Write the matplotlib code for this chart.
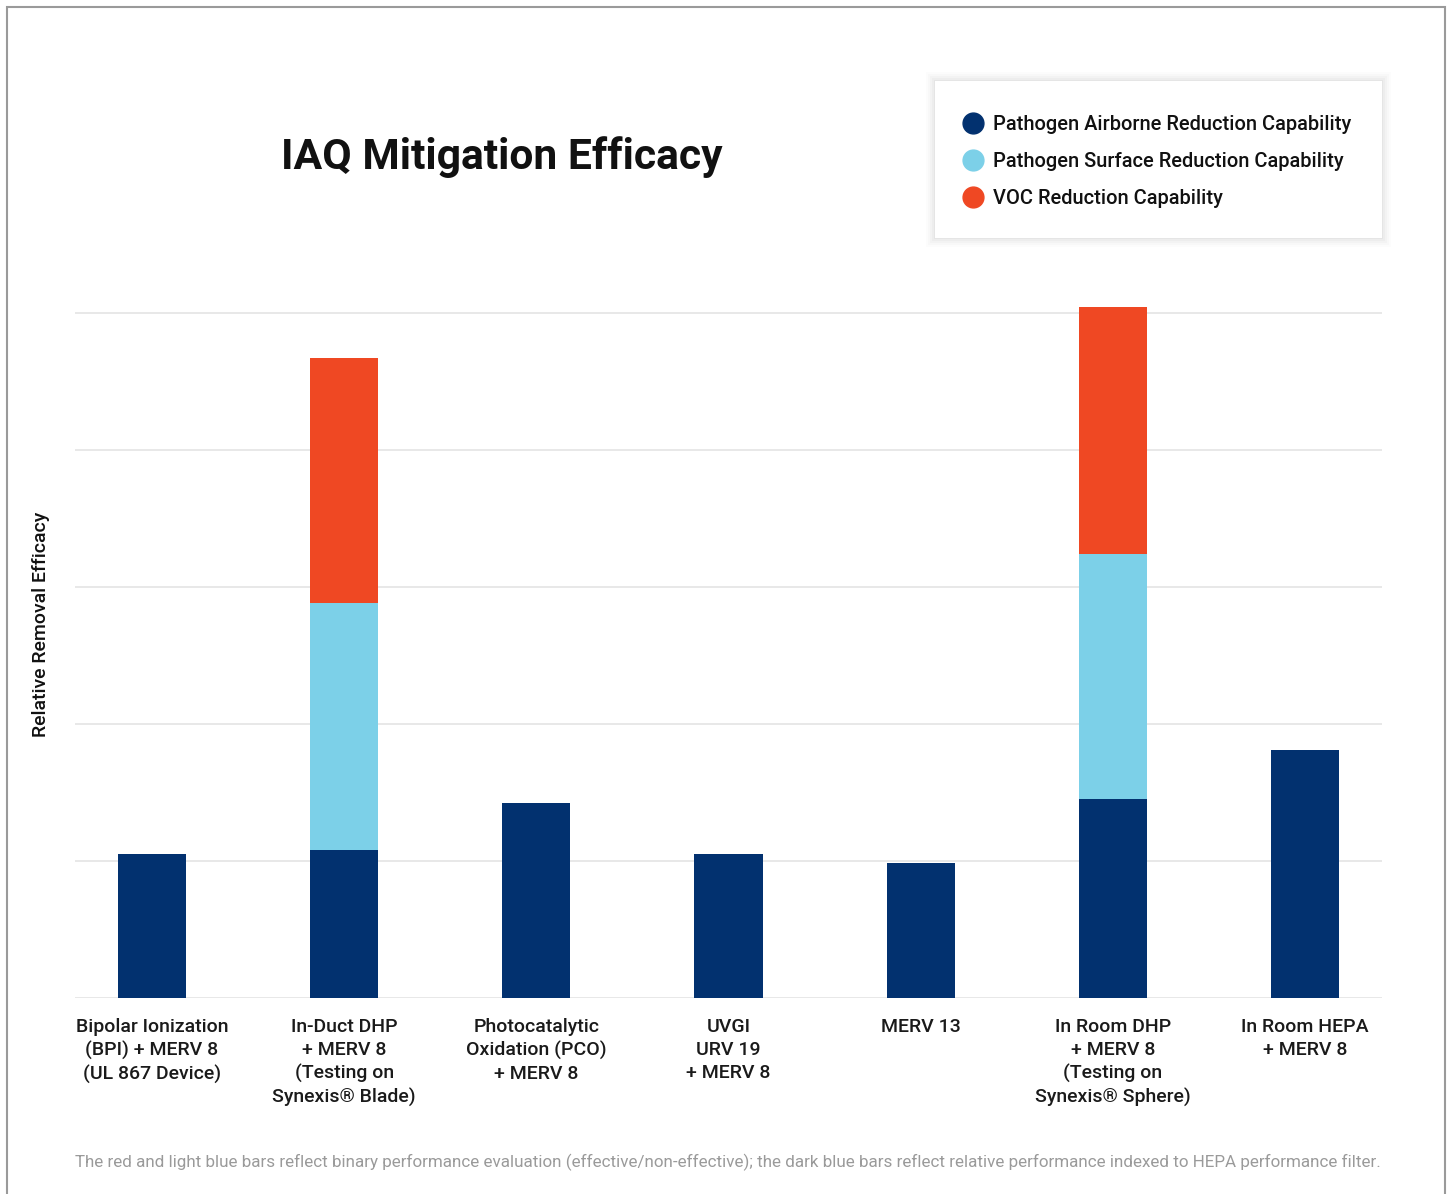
import matplotlib
matplotlib.use("Agg")
import matplotlib.pyplot as plt
from matplotlib.patches import Rectangle
from matplotlib.lines import Line2D
import numpy as np

plt.rcParams['font.family'] = ['Roboto', 'Liberation Sans', 'DejaVu Sans']

# datos (1 unidad = una linea de la grilla)
categorias = [
    "Bipolar Ionization\n(BPI) + MERV 8\n(UL 867 Device)",
    "In-Duct DHP\n+ MERV 8\n(Testing on\nSynexis® Blade)",
    "Photocatalytic\nOxidation (PCO)\n+ MERV 8",
    "UVGI\nURV 19\n+ MERV 8",
    "MERV 13",
    "In Room DHP\n+ MERV 8\n(Testing on\nSynexis® Sphere)",
    "In Room HEPA\n+ MERV 8",
]
aire = [1.05, 1.08, 1.42, 1.05, 0.98, 1.45, 1.81]
superficie = [0, 1.80, 0, 0, 0, 1.79, 0]
voc = [0, 1.79, 0, 0, 0, 1.80, 0]
series = ["Pathogen Airborne Reduction Capability",
          "Pathogen Surface Reduction Capability",
          "VOC Reduction Capability"]
colores = ["#02316F", "#7CD0E8", "#EF4823"]

W, H = 1449, 1194
fig = plt.figure(figsize=(W / 100, H / 100), dpi=100)
fig.patch.set_facecolor("white")

# marco gris alrededor
fig.patches.append(Rectangle((7 / W, -0.01), (1445 - 7) / W, 1 - 7 / H + 0.01,
                             transform=fig.transFigure, fill=False,
                             edgecolor="#9a9a9a", linewidth=1.5))

ax = fig.add_axes([75 / W, (H - 997.5) / H, (1382 - 75) / W, (997.5 - 299) / H])
x = np.arange(len(categorias))
ancho = 0.354
aire = np.array(aire)
superficie = np.array(superficie)
voc = np.array(voc)
ax.bar(x, aire, ancho, color=colores[0], zorder=3)
ax.bar(x, superficie, ancho, bottom=aire, color=colores[1], zorder=3)
ax.bar(x, voc, ancho, bottom=aire + superficie, color=colores[2], zorder=3)

ax.set_xlim(-0.4, 6.4)
ax.set_ylim(0, 5.1)
ax.set_yticks([0, 1, 2, 3, 4, 5])
ax.set_yticklabels([])
ax.grid(axis="y", color="#e4e4e4", linewidth=1.2, zorder=0)
ax.set_axisbelow(True)
ax.set_xticks(x)
ax.set_xticklabels(categorias, fontsize=14, fontweight="medium", color="#1a1a1a",
                   linespacing=1.33)
ax.tick_params(axis="both", length=0)
ax.tick_params(axis="x", pad=15)
for s in ax.spines.values():
    s.set_visible(False)

fig.text(41 / W, 1 - 624 / H, "Relative Removal Efficacy", rotation=90,
         ha="center", va="center", fontsize=14, fontweight="medium", color="#111111")

fig.text(502 / W, 1 - 157 / H, "IAQ Mitigation Efficacy", ha="center", va="center",
         fontsize=30.7, fontweight="bold", color="#111111")

# caja de la leyenda con sombra suave
bx0, by0, bx1, by1 = 935, 81, 1382, 238
for i, a in enumerate([0.012, 0.016, 0.02, 0.025, 0.03]):
    d = 9 - 2 * i
    fig.patches.append(Rectangle(((bx0 - d) / W, 1 - (by1 + d) / H),
                                 (bx1 - bx0 + 2 * d) / W, (by1 - by0 + 2 * d) / H,
                                 transform=fig.transFigure, facecolor="black",
                                 edgecolor="none", alpha=a))
fig.patches.append(Rectangle((bx0 / W, 1 - by1 / H), (bx1 - bx0) / W, (by1 - by0) / H,
                             transform=fig.transFigure, facecolor="white",
                             edgecolor="none"))

manijas = [Line2D([], [], marker="o", linestyle="none", markersize=15,
                  markerfacecolor=c, markeredgecolor=c) for c in colores]
leg = fig.legend(manijas, series, loc="upper left",
                 bbox_to_anchor=(963 / W, 1 - 115 / H), frameon=False,
                 prop={"size": 14.4, "weight": "medium"}, handletextpad=0.5,
                 labelspacing=0.9, handlelength=1.0, borderpad=0, borderaxespad=0)
for t in leg.get_texts():
    t.set_color("#111111")

fig.text(728 / W, 1 - 1162 / H,
         "The red and light blue bars reflect binary performance evaluation "
         "(effective/non-effective); the dark blue bars reflect relative performance "
         "indexed to HEPA performance filter.",
         ha="center", va="center", fontsize=12.25, color="#9a9a9a")

fig.savefig("out.png", dpi=100, facecolor="white")
